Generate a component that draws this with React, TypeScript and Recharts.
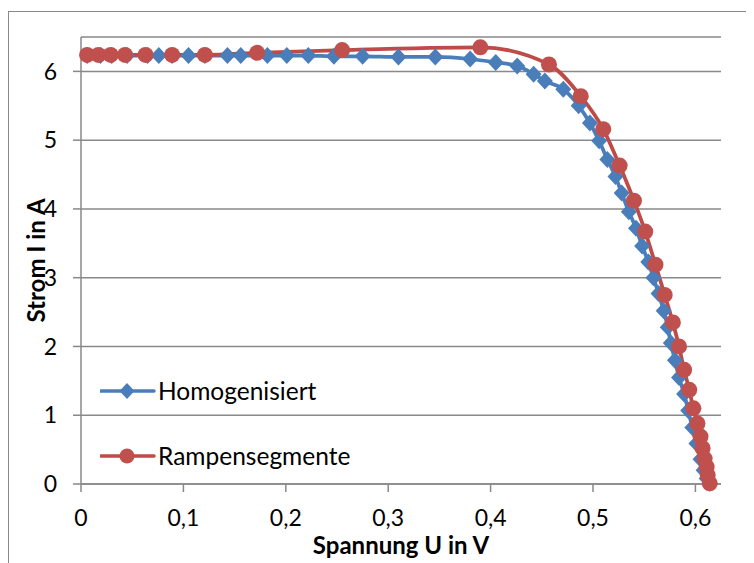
import { LineChart, Line, XAxis, YAxis, CartesianGrid } from 'recharts';

const homU = [0.006, 0.019, 0.03, 0.045, 0.065, 0.076, 0.089, 0.105, 0.121, 0.143, 0.156, 0.182, 0.201, 0.222, 0.247, 0.275, 0.31, 0.346, 0.38, 0.405, 0.426, 0.442, 0.453, 0.471, 0.486, 0.497, 0.506, 0.514, 0.522, 0.528, 0.535, 0.542, 0.548, 0.554, 0.559, 0.564, 0.569, 0.573, 0.576, 0.58, 0.584, 0.589, 0.593, 0.597, 0.601, 0.605, 0.608, 0.611, 0.614];
const homI = [6.23, 6.23, 6.23, 6.23, 6.23, 6.23, 6.23, 6.23, 6.23, 6.23, 6.23, 6.23, 6.23, 6.23, 6.22, 6.22, 6.21, 6.21, 6.18, 6.13, 6.08, 5.96, 5.86, 5.74, 5.5, 5.25, 4.99, 4.72, 4.47, 4.23, 3.96, 3.72, 3.46, 3.23, 3.0, 2.77, 2.52, 2.28, 2.05, 1.8, 1.55, 1.31, 1.07, 0.82, 0.59, 0.36, 0.2, 0.08, 0.01];

const rampU = [0.006, 0.017, 0.029, 0.043, 0.063, 0.089, 0.121, 0.172, 0.255, 0.39, 0.457, 0.488, 0.51, 0.526, 0.54, 0.551, 0.561, 0.57, 0.578, 0.584, 0.589, 0.594, 0.598, 0.602, 0.605, 0.607, 0.609, 0.611, 0.612, 0.614];
const rampI = [6.24, 6.24, 6.24, 6.24, 6.24, 6.24, 6.24, 6.27, 6.31, 6.35, 6.1, 5.64, 5.16, 4.63, 4.12, 3.67, 3.19, 2.75, 2.35, 2.0, 1.66, 1.37, 1.1, 0.88, 0.69, 0.52, 0.37, 0.25, 0.13, 0.01];

const xTicks = [0, 0.1, 0.2, 0.3, 0.4, 0.5, 0.6];
const yTicks = [0, 1, 2, 3, 4, 5, 6];

const seriesNames = ['Homogenisiert', 'Rampensegmente'];

const homData = homU.map((u, k) => ({ u, i: homI[k] }));
const rampData = rampU.map((u, k) => ({ u, i: rampI[k] }));

const BLUE = '#4a7ebb';
const RED = '#be4b48';
const RED_MARK = '#c0504d';
const GREY = '#898989';
const FONT = 'Lato, sans-serif';

const diamond = (props: any) => {
  const { cx, cy, index } = props;
  if (cx == null || cy == null) return <g key={`d${index}`} />;
  return (
    <path
      key={`d${index}`}
      d={`M${cx},${cy - 8.5} L${cx + 8},${cy} L${cx},${cy + 8.5} L${cx - 8},${cy} Z`}
      fill={BLUE}
    />
  );
};

const circle = (props: any) => {
  const { cx, cy, index } = props;
  if (cx == null || cy == null) return <g key={`c${index}`} />;
  return <circle key={`c${index}`} cx={cx} cy={cy} r={8} fill={RED_MARK} />;
};

const fmtX = (v: number) => (v === 0 ? '0' : v.toFixed(1).replace('.', ','));

function LegendRow({ name, color, kind }: { name: string; color: string; kind: string }) {
  return (
    <div style={{ display: 'flex', alignItems: 'center', height: 65 }}>
      <svg width={56} height={20} style={{ display: 'block' }}>
        <line x1={1} y1={10} x2={54} y2={10} stroke={color} strokeWidth={3.5} strokeLinecap="round" />
        {kind === 'diamond' ? (
          <path d="M27,2 L34.5,10 L27,18 L19.5,10 Z" fill={color} />
        ) : (
          <circle cx={27} cy={10} r={7.5} fill={RED_MARK} />
        )}
      </svg>
      <span style={{ marginLeft: 2, fontFamily: FONT, fontSize: 24.5, color: '#000' }}>{name}</span>
    </div>
  );
}

export default function App() {
  return (
    <>
      <style>{'html,body{overflow:hidden}'}</style>
      <div
        style={{
          position: 'relative',
          width: 746,
          height: 555,
          marginTop: 3,
          boxSizing: 'border-box',
          borderTop: `1px solid ${GREY}`,
          borderLeft: `1px solid ${GREY}`,
          fontFamily: FONT,
        }}
      >
        <LineChart width={745} height={551} margin={{ top: 25, right: 33, left: 0, bottom: 0 }}>
          <CartesianGrid vertical={false} stroke={GREY} strokeWidth={1.5} />
          <XAxis
            type="number"
            dataKey="u"
            domain={[0, 0.625]}
            ticks={xTicks}
            interval={0}
            tickFormatter={fmtX}
            height={79}
            tickSize={8}
            tickMargin={18}
            stroke={GREY}
            strokeWidth={1.5}
            tick={{ fill: '#000', fontSize: 23, fontFamily: FONT }}
            label={{
              value: 'Spannung U in V',
              position: 'insideBottom',
              offset: 9,
              style: { fill: '#000', fontSize: 24, fontWeight: 700, fontFamily: FONT },
            }}
          />
          <YAxis
            type="number"
            domain={[0, 6.5]}
            ticks={yTicks}
            interval={0}
            width={72}
            tickSize={8}
            tickMargin={16}
            stroke={GREY}
            strokeWidth={1.5}
            tick={{ fill: '#000', fontSize: 23, fontFamily: FONT }}
            label={(p: any) => {
              const cy = p.viewBox ? p.viewBox.y + p.viewBox.height / 2 : 248;
              return (
                <text
                  x={26}
                  y={cy}
                  transform={`rotate(-90 26 ${cy})`}
                  textAnchor="middle"
                  dominantBaseline="central"
                  style={{ fill: '#000', fontSize: 24, fontWeight: 700, fontFamily: FONT }}
                >
                  Strom I in A
                </text>
              );
            }}
          />
          <Line
            data={homData}
            dataKey="i"
            name={seriesNames[0]}
            type="monotone"
            stroke={BLUE}
            strokeWidth={3.75}
            dot={diamond}
            activeDot={false}
            isAnimationActive={false}
          />
          <Line
            data={rampData}
            dataKey="i"
            name={seriesNames[1]}
            type="monotone"
            stroke={RED}
            strokeWidth={3.75}
            dot={circle}
            activeDot={false}
            isAnimationActive={false}
          />
        </LineChart>
        <div style={{ position: 'absolute', left: 91, top: 346 }}>
          <LegendRow name={seriesNames[0]} color={BLUE} kind="diamond" />
          <LegendRow name={seriesNames[1]} color={RED} kind="circle" />
        </div>
      </div>
    </>
  );
}
